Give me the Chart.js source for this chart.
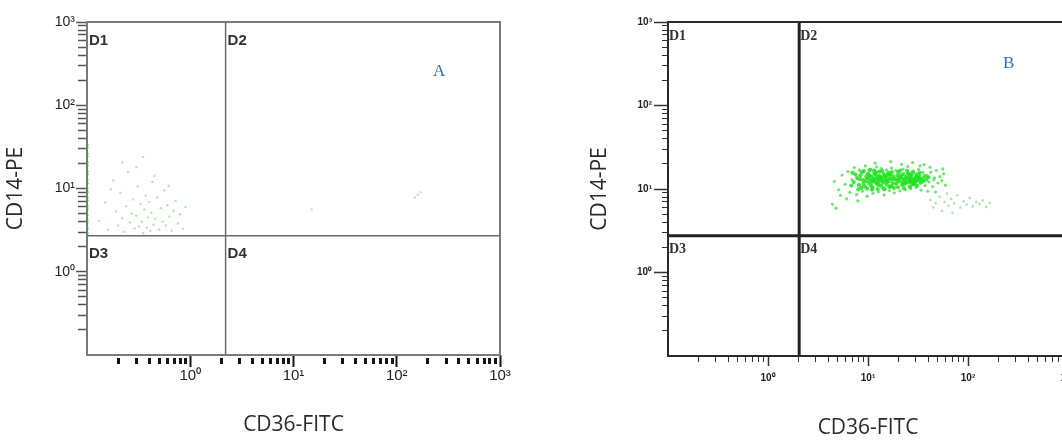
<!DOCTYPE html>
<html>
<head>
<meta charset="utf-8">
<script src="https://cdn.jsdelivr.net/npm/chart.js@4.4.1/dist/chart.umd.min.js"></script>
<style>
  html, body { margin: 0; padding: 0; background: #fff; width: 1062px; height: 441px; overflow: hidden; }
  .panel { position: absolute; top: 0; height: 441px; }
  #wrapA { left: 0; width: 520px; }
  #wrapB { left: 580px; width: 520px; }
  .tag { position: absolute; font-family: "Liberation Serif", serif; font-size: 17px; color: #2a72c0; }
</style>
</head>
<body>
<div class="panel" id="wrapA"><canvas id="chartA" width="520" height="441"></canvas></div>
<div class="panel" id="wrapB"><canvas id="chartB" width="520" height="441"></canvas></div>
<div class="tag" style="left:433px; top:61px;">A</div>
<div class="tag" style="left:1003px; top:53px;">B</div>

<script>
// =============== Daten ===============
const majorTicks = [1, 10, 100, 1000];
const majorLabels = ['10⁰', '10¹', '10²', '10³'];
const minorTicks = [0.2, 0.3, 0.4, 0.5, 0.6, 0.7, 0.8, 0.9,
                    2, 3, 4, 5, 6, 7, 8, 9,
                    20, 30, 40, 50, 60, 70, 80, 90,
                    200, 300, 400, 500, 600, 700, 800, 900];
const quadrantNames = ['D1', 'D2', 'D3', 'D4'];

// Gates [CD36, CD14]
const gateA = [2.2, 2.7];
const gateB = [2.05, 2.75];

// Panel A: Ereignisse am linken Rand (CD36 = 0.1)
const aEdgeY = [2.9, 3.3, 3.9, 4.2, 4.8, 5.6, 6.1, 7.2, 7.8, 9.1, 10.0, 11.6, 12.7,
                14.8, 16.1, 18.9, 20.5, 24.0, 26.2, 30.8, 33.5];
// Panel A: verstreute Ereignisse
const aDots = [
  [0.13, 4.1], [0.15, 6.8], [0.16, 3.2], [0.18, 12.5], [0.19, 5.3], [0.2, 3.6], [0.21, 8.9],
  [0.22, 4.4], [0.23, 3.0], [0.24, 6.1], [0.25, 15.8], [0.26, 3.9], [0.27, 5.0], [0.28, 7.4],
  [0.29, 3.3], [0.3, 4.7], [0.31, 10.6], [0.32, 3.5], [0.33, 6.5], [0.34, 4.0], [0.35, 2.9],
  [0.36, 5.6], [0.37, 8.2], [0.38, 3.4], [0.39, 4.5], [0.4, 6.9], [0.41, 3.1], [0.42, 5.1],
  [0.43, 12.0], [0.44, 3.7], [0.46, 4.3], [0.48, 7.8], [0.5, 3.2], [0.52, 5.8], [0.54, 4.0],
  [0.56, 9.5], [0.58, 3.6], [0.6, 6.3], [0.63, 4.6], [0.66, 3.1], [0.69, 5.4], [0.72, 7.1],
  [0.76, 3.8], [0.8, 4.9], [0.85, 3.3], [0.9, 6.0], [0.22, 20.5], [0.3, 18.0], [0.17, 9.8],
  [0.45, 14.2], [0.35, 24.0], [0.62, 10.8]
];
const aFaint = [[15, 5.6], [150, 7.8], [160, 8.4], [170, 9.0]];

// Panel B: Hauptpopulation
const bCore = [
  [7.2, 12.1], [7.8, 13.5], [8.1, 11.2], [8.4, 14.6], [8.9, 12.8], [9.3, 10.7], [9.6, 13.9],
  [9.9, 15.2], [10.2, 11.8], [10.5, 12.9], [10.8, 14.1], [11.1, 10.4], [11.4, 13.3], [11.7, 12.2],
  [12.0, 15.8], [12.3, 11.5], [12.6, 13.0], [12.9, 14.4], [13.2, 12.5], [13.5, 10.9], [13.8, 13.7],
  [14.1, 11.9], [14.4, 15.0], [14.7, 12.7], [15.0, 13.9], [15.4, 11.3], [15.8, 14.8], [16.2, 12.4],
  [16.6, 13.5], [17.0, 10.8], [17.5, 12.9], [18.0, 14.2], [7.5, 14.9], [8.6, 10.3], [9.1, 16.4],
  [10.0, 13.4], [10.7, 11.0], [11.9, 14.9], [12.4, 12.0], [13.0, 16.2], [13.7, 12.9], [14.3, 10.2],
  [15.2, 12.2], [16.0, 15.6], [11.3, 12.6], [12.8, 11.2], [9.5, 12.4], [10.3, 14.6], [14.9, 14.3],
  [13.3, 13.8], [8.3, 13.1], [11.6, 15.4], [12.1, 13.6], [15.6, 13.0], [10.9, 12.1],
  [18.6, 13.1], [19.2, 11.6], [19.8, 14.5], [20.5, 12.4], [21.2, 13.8], [21.9, 11.2], [22.6, 15.1],
  [23.3, 12.9], [24.0, 14.0], [24.8, 11.9], [25.6, 13.4], [26.4, 12.3], [27.3, 14.7], [28.2, 13.0],
  [29.1, 11.5], [30.1, 13.9], [31.2, 12.6], [32.4, 14.2], [33.6, 11.9], [34.8, 13.3], [20.1, 15.9],
  [22.1, 13.2], [23.8, 12.1], [25.2, 15.3], [26.9, 13.8], [28.8, 12.2], [30.6, 15.0], [19.5, 12.8],
  [24.4, 13.5], [27.7, 11.3], [21.5, 14.6], [26.0, 14.9], [29.6, 13.4], [23.0, 11.4], [31.8, 13.7],
  [6.8, 11.0], [7.0, 15.6], [8.0, 9.9], [8.7, 15.9], [9.0, 11.5], [9.8, 10.1], [10.4, 16.8],
  [11.0, 9.8], [11.5, 16.6], [12.5, 10.0], [13.9, 16.4], [14.6, 9.9], [16.4, 10.6], [17.3, 15.9],
  [18.2, 10.3], [19.9, 10.5], [20.9, 16.6], [22.9, 10.2], [24.6, 16.5], [26.2, 10.6], [28.0, 15.8],
  [30.9, 11.0], [33.0, 15.6], [35.7, 12.4], [36.9, 14.3], [38.1, 12.9], [40.2, 13.8], [17.8, 11.7],
  [16.8, 14.9], [20.3, 13.3], [22.4, 12.0], [25.9, 12.8], [27.0, 12.0], [29.9, 12.3], [32.9, 13.0]
];
// Panel B: Randbereich der Population
const bHalo = [
  [4.6, 12.3], [5.1, 9.8], [5.5, 14.7], [5.9, 11.4], [6.3, 16.2], [6.6, 9.1], [6.9, 13.0],
  [7.3, 18.1], [7.7, 8.6], [8.2, 16.8], [8.8, 9.4], [9.4, 18.9], [9.8, 8.2], [10.6, 17.3],
  [11.2, 8.9], [12.2, 18.4], [12.7, 9.3], [13.6, 17.6], [14.5, 8.5], [15.3, 16.9], [16.4, 9.6],
  [17.2, 17.8], [18.3, 9.0], [19.0, 16.7], [20.8, 9.5], [22.3, 17.2], [23.6, 9.8], [25.0, 18.6],
  [26.7, 10.1], [28.5, 16.4], [30.3, 10.4], [32.0, 17.1], [33.9, 9.7], [35.5, 15.8], [37.2, 11.0],
  [38.9, 14.6], [40.7, 12.2], [42.5, 15.9], [44.3, 10.7], [46.2, 13.6], [48.1, 16.7], [50.0, 11.8],
  [52.3, 14.1], [54.6, 12.6], [57.0, 15.2], [59.5, 11.1], [36.4, 19.6], [41.8, 18.2], [45.5, 12.9],
  [39.6, 9.4], [6.1, 7.6], [5.3, 8.4], [7.9, 7.2], [11.8, 20.4], [16.9, 21.3], [21.7, 19.8],
  [27.9, 20.7], [33.1, 18.9], [47.4, 9.2], [55.8, 17.4], [4.4, 6.6], [4.8, 5.9]
];
// Panel B: Ausläufer nach rechts unten
const bTail = [
  [42.0, 7.4], [47.5, 6.8], [52.0, 8.1], [58.2, 7.0], [63.5, 6.3], [68.0, 7.6], [72.6, 6.7],
  [78.4, 8.4], [84.0, 6.0], [90.5, 7.1], [97.0, 6.5], [104.0, 7.8], [112.0, 6.2], [121.0, 7.0],
  [130.0, 6.6], [140.0, 7.3], [152.0, 6.1], [165.0, 6.8], [45.0, 6.0], [55.0, 5.5], [62.0, 8.8],
  [70.0, 5.2]
];

// =============== Helpers ===============
const toXY = (pairs) => pairs.map(([x, y]) => ({ x, y }));

function pointSet(data, color, radius) {
  return { data, backgroundColor: color, borderWidth: 0, pointRadius: radius, pointHoverRadius: 0, order: 2 };
}

function gateSets(gate, color, width) {
  const line = (data) => ({
    data, showLine: true, borderColor: color, borderWidth: width,
    pointRadius: 0, order: 1, clip: 0
  });
  return [
    line([{ x: gate[0], y: 0.1 }, { x: gate[0], y: 1000 }]),
    line([{ x: 0.1, y: gate[1] }, { x: 1000, y: gate[1] }])
  ];
}

// Rahmen + Quadrantennamen
const quadPlugin = {
  id: 'quadFrame',
  afterDatasetsDraw(chart, args, opts) {
    const { ctx, chartArea: a, scales } = chart;
    const gx = scales.x.getPixelForValue(opts.gate[0]);
    const gy = scales.y.getPixelForValue(opts.gate[1]);
    ctx.save();
    ctx.strokeStyle = opts.color;
    ctx.lineWidth = opts.width;
    ctx.strokeRect(a.left, a.top, a.right - a.left, a.bottom - a.top);
    ctx.fillStyle = opts.textColor;
    ctx.font = opts.font;
    ctx.textBaseline = 'top';
    const spots = [[a.left, a.top], [gx, a.top], [a.left, gy], [gx, gy]];
    spots.forEach(([px, py], i) => ctx.fillText(quadrantNames[i], px + opts.dx, py + opts.dy));
    ctx.restore();
  }
};

function axisPair(axis, o) {
  const isX = axis === 'x';
  const major = {
    type: 'logarithmic', position: isX ? 'bottom' : 'left', min: 0.1, max: 1000, weight: 1,
    afterBuildTicks: (s) => { s.ticks = majorTicks.map((v) => ({ value: v })); },
    afterFit: (s) => { if (isX) s.height = o.size; else s.width = o.size; },
    border: { display: false },
    grid: { drawOnChartArea: false, tickLength: o.majorLen, tickColor: o.tickColor, tickWidth: o.majorWidth },
    ticks: {
      autoSkip: false, maxRotation: 0, padding: o.labelPad, color: o.labelColor,
      font: o.labelFont, callback: (v, i) => majorLabels[i]
    },
    title: {
      display: true, text: isX ? 'CD36-FITC' : 'CD14-PE', color: '#2a2a2a',
      font: { family: '"Open Sans", sans-serif', size: 21 },
      padding: isX ? { top: 0, bottom: o.titlePad } : { top: o.titlePad, bottom: 0 }
    }
  };
  const minor = {
    type: 'logarithmic', position: isX ? 'bottom' : 'left', min: 0.1, max: 1000, weight: 0,
    afterBuildTicks: (s) => { s.ticks = minorTicks.map((v) => ({ value: v })); },
    afterFit: (s) => { if (isX) s.height = 0; else s.width = 0; },
    border: { display: false },
    grid: {
      drawOnChartArea: false, tickLength: o.minorLen, tickColor: o.tickColor,
      tickWidth: o.minorWidth, tickBorderDash: o.minorDash || []
    },
    ticks: { display: false }
  };
  return [major, minor];
}

function makePanel(id, cfg) {
  const [x, x2] = axisPair('x', cfg.x);
  const [y, y2] = axisPair('y', cfg.y);
  return new Chart(document.getElementById(id), {
    type: 'scatter',
    data: { datasets: cfg.datasets },
    options: {
      responsive: false,
      animation: false,
      layout: { padding: cfg.padding },
      plugins: { legend: { display: false }, tooltip: { enabled: false }, quadFrame: cfg.frame },
      scales: { x, x2, y, y2 }
    },
    plugins: [quadPlugin]
  });
}

// =============== Panel A ===============
makePanel('chartA', {
  padding: { left: 0, top: 22, right: 20, bottom: 0 },
  datasets: [
    pointSet(toXY(aDots), 'rgba(110, 205, 110, 0.5)', 1.2),
    pointSet(toXY(aFaint), 'rgba(150, 185, 150, 0.45)', 1.2),
    pointSet(aEdgeY.map((y) => ({ x: 0.1, y })), 'rgba(40, 220, 40, 0.9)', 1.6),
    ...gateSets(gateA, '#6a6a6a', 1.5)
  ],
  frame: { gate: gateA, color: '#7a7a7a', width: 2, textColor: '#333',
           font: 'bold 15px "Liberation Sans", Arial, sans-serif', dx: 2, dy: 11 },
  x: { size: 86, majorLen: 12, majorWidth: 2, minorLen: 9, minorWidth: 3, minorDash: [0, 3, 6, 100],
       tickColor: '#151515', labelPad: 0, labelColor: '#222',
       labelFont: { family: '"Liberation Sans", Arial', size: 15 }, titlePad: 3 },
  y: { size: 87, majorLen: 11, majorWidth: 1.5, minorLen: 9, minorWidth: 1.5,
       tickColor: '#555', labelPad: 1, labelColor: '#222',
       labelFont: { family: '"Liberation Sans", Arial', size: 14 }, titlePad: 3 }
});

// =============== Panel B ===============
makePanel('chartB', {
  padding: { left: 0, top: 22, right: 32, bottom: 0 },
  datasets: [
    pointSet(toXY(bTail), 'rgba(110, 200, 110, 0.55)', 1.3),
    pointSet(toXY(bHalo), 'rgba(50, 215, 50, 0.7)', 1.6),
    pointSet(toXY(bCore), 'rgba(30, 225, 30, 0.85)', 2.1),
    ...gateSets(gateB, '#222', 3)
  ],
  frame: { gate: gateB, color: '#2a2a2a', width: 2, textColor: '#333',
           font: 'bold 14px "Liberation Serif", serif', dx: 1, dy: 7 },
  x: { size: 85, majorLen: 10, majorWidth: 1.5, minorLen: 6, minorWidth: 1,
       tickColor: '#333', labelPad: 6, labelColor: '#222',
       labelFont: { family: '"Liberation Sans", Arial', size: 10, weight: 'bold' }, titlePad: 0 },
  y: { size: 88, majorLen: 14, majorWidth: 1.5, minorLen: 6, minorWidth: 1,
       tickColor: '#333', labelPad: 2, labelColor: '#222',
       labelFont: { family: '"Liberation Sans", Arial', size: 10, weight: 'bold' }, titlePad: 7 }
});
</script>
</body>
</html>
